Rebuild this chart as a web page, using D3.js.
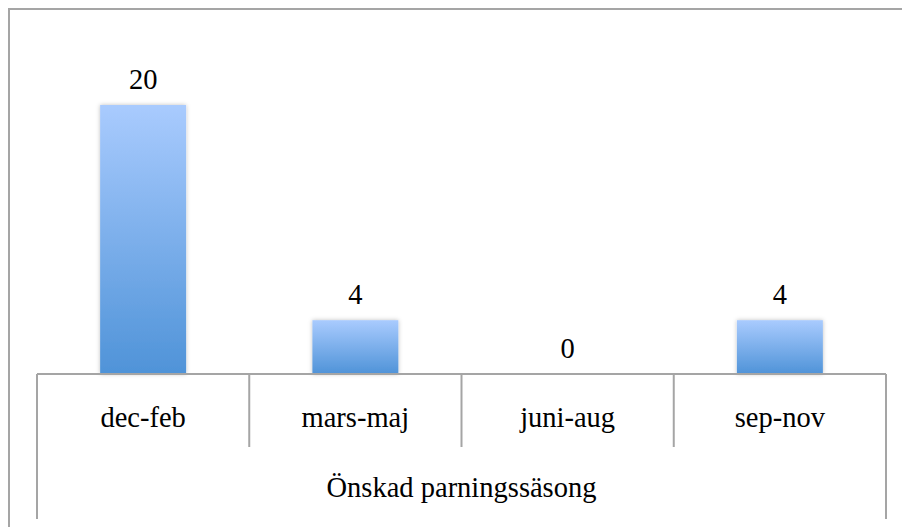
<!DOCTYPE html>
<html>
<head>
<meta charset="utf-8">
<script src="https://cdn.jsdelivr.net/npm/d3@7"></script>
<style>
  html, body { margin: 0; padding: 0; background: #fff; }
  svg { display: block; }
  text { font-family: "Liberation Serif", "DejaVu Serif", serif; fill: #000; font-size: 28.5px; }
</style>
</head>
<body>
<div id="chart"></div>
<script>
// chart values
var categories = ["dec-feb", "mars-maj", "juni-aug", "sep-nov"];
var values = [20, 4, 0, 4];
var axisTitle = "Önskad parningssäsong";

var width = 902, height = 527;
var plotLeft = 37, plotRight = 886;     // category axis extent
var baseY = 374, topY = 105;            // zero line and top of the tallest bar

var svg = d3.select("#chart")
  .append("svg")
  .attr("width", width)
  .attr("height", height);

// bar gradient + soft shadow
var defs = svg.append("defs");
var grad = defs.append("linearGradient")
  .attr("id", "barGrad")
  .attr("x1", 0).attr("y1", 0).attr("x2", 0).attr("y2", 1);
grad.append("stop").attr("offset", "0%").attr("stop-color", "#a9cbfe");
grad.append("stop").attr("offset", "100%").attr("stop-color", "#4f93d8");

var shadow = defs.append("filter").attr("id", "shadow")
  .attr("x", "-20%").attr("y", "-20%").attr("width", "140%").attr("height", "140%");
shadow.append("feDropShadow")
  .attr("dx", 0).attr("dy", 0).attr("stdDeviation", 2)
  .attr("flood-color", "#000").attr("flood-opacity", 0.25);

// outer frame (only top and left visible in the crop)
svg.append("path")
  .attr("d", "M9," + height + "V9H" + width)
  .attr("fill", "none")
  .attr("stroke", "#a5a5a5")
  .attr("stroke-width", 2);

var x = d3.scaleBand()
  .domain(categories)
  .range([plotLeft, plotRight])
  .paddingInner(0)
  .paddingOuter(0);

var y = d3.scaleLinear()
  .domain([0, d3.max(values)])
  .range([baseY, topY]);

var barW = x.bandwidth() * 0.405;

// bars
svg.selectAll("rect.bar")
  .data(values)
  .enter()
  .append("rect")
  .attr("class", "bar")
  .attr("x", function(d, i) { return x(categories[i]) + (x.bandwidth() - barW) / 2; })
  .attr("y", function(d) { return y(d); })
  .attr("width", barW)
  .attr("height", function(d) { return baseY - y(d); })
  .attr("fill", "url(#barGrad)")
  .attr("filter", "url(#shadow)");

// value labels
svg.selectAll("text.val")
  .data(values)
  .enter()
  .append("text")
  .attr("class", "val")
  .attr("x", function(d, i) { return x(categories[i]) + x.bandwidth() / 2; })
  .attr("y", function(d) { return y(d) - 16; })
  .attr("text-anchor", "middle")
  .text(function(d) { return d; });

// category axis drawn as a little table
var gridColor = "#a5a5a5";
svg.append("line")
  .attr("x1", plotLeft).attr("x2", plotRight)
  .attr("y1", baseY).attr("y2", baseY)
  .attr("stroke", gridColor).attr("stroke-width", 2);

var edges = categories.map(function(c) { return x(c); }).concat([plotRight]);
svg.selectAll("line.div")
  .data(edges)
  .enter()
  .append("line")
  .attr("class", "div")
  .attr("x1", function(d) { return d; })
  .attr("x2", function(d) { return d; })
  .attr("y1", baseY)
  .attr("y2", function(d, i) { return (i === 0 || i === edges.length - 1) ? 519 : 447; })
  .attr("stroke", gridColor)
  .attr("stroke-width", 2);

svg.selectAll("text.cat")
  .data(categories)
  .enter()
  .append("text")
  .attr("class", "cat")
  .attr("x", function(d) { return x(d) + x.bandwidth() / 2; })
  .attr("y", 427)
  .attr("text-anchor", "middle")
  .text(function(d) { return d; });

svg.append("text")
  .attr("x", (plotLeft + plotRight) / 2)
  .attr("y", 497)
  .attr("text-anchor", "middle")
  .text(axisTitle);
</script>
</body>
</html>
